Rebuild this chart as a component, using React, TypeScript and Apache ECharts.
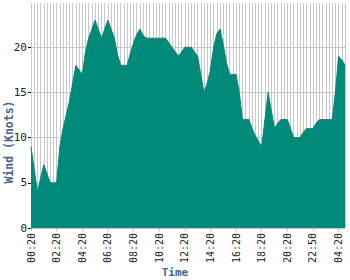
import React, { useEffect, useRef } from "react";
import * as echarts from "echarts";

const times: string[] = [
  "00:20", "00:35", "00:50", "01:05", "01:20", "01:35", "01:50", "02:05",
  "02:20", "02:35", "02:50", "03:05", "03:20", "03:35", "03:50", "04:05",
  "04:20", "04:35", "04:50", "05:05", "05:20", "05:35", "05:50", "06:05",
  "06:20", "06:35", "06:50", "07:05", "07:20", "07:35", "07:50", "08:05",
  "08:20", "08:35", "08:50", "09:05", "09:20", "09:35", "09:50", "10:05",
  "10:20", "10:35", "10:50", "11:05", "11:20", "11:35", "11:50", "12:05",
  "12:20", "12:35", "12:50", "13:05", "13:20", "13:35", "13:50", "14:05",
  "14:20", "14:35", "14:50", "15:05", "15:20", "15:35", "15:50", "16:05",
  "16:20", "16:35", "16:50", "17:05", "17:20", "17:35", "17:50", "18:05",
  "18:20", "18:35", "18:50", "19:05", "19:20", "19:35", "19:50", "20:05",
  "20:20", "20:35", "20:50", "21:05", "21:20", "21:35", "22:20", "22:35",
  "22:50", "23:05", "23:20", "23:35", "23:50", "00:05", "00:20", "00:35",
  "04:20", "04:35", "04:50",
];

const windKnots: number[] = [
  9, 6.5, 4, 5.5, 7, 6, 5, 5,
  5, 9, 11, 12.5, 14, 16, 18, 17.5,
  17, 19.5, 21, 22, 23, 22, 21, 22,
  23, 22, 21, 19.2, 18, 18, 18, 19.3,
  20.5, 21.4, 22, 21.3, 21, 21, 21, 21,
  21, 21, 21, 20.5, 20, 19.5, 19, 19.5,
  20, 20, 20, 19.5, 19, 17, 15, 16,
  17.5, 20, 21.5, 22, 20.3, 18.3, 17, 17,
  17, 15, 12, 12, 12, 11, 10.2, 9.6,
  9, 12, 15, 13, 11, 11.6, 12, 12,
  12, 11, 10, 10, 10, 10.6, 11, 11,
  11, 11.6, 12, 12, 12, 12, 12, 15,
  19, 18.6, 18,
];

const yTitle = "Wind (Knots)";
const xTitle = "Time";

export default function App() {
  const ref = useRef<HTMLDivElement>(null);
  useEffect(() => {
    document.body.style.margin = "0";
    if (!ref.current) return;
    const chart = echarts.init(ref.current, null, { renderer: "svg" });
    const grid = "#c8c8c8";
    const mono = "'DejaVu Sans Mono', monospace";
    chart.setOption({
      animation: false,
      backgroundColor: "#ffffff",
      grid: { left: 31, right: 5, top: 3, bottom: 52 },
      xAxis: {
        type: "category",
        boundaryGap: false,
        data: times,
        axisLine: { show: false },
        axisTick: { show: true, interval: 7, length: 3, lineStyle: { color: "#bbbbbb" } },
        axisLabel: {
          interval: 7,
          rotate: 90,
          fontFamily: mono,
          fontSize: 10,
          color: "#222",
          margin: 5,
        },
        splitLine: { show: true, interval: 0, lineStyle: { color: grid, width: 1 } },
      },
      yAxis: {
        type: "value",
        min: 0,
        max: 24.9,
        interval: 5,
        axisLine: { show: false },
        axisTick: { show: true, length: 3, lineStyle: { color: "#111" } },
        axisLabel: {
          fontFamily: mono,
          fontSize: 11,
          color: "#222",
          margin: 4,
          showMaxLabel: false,
        },
        splitLine: {
          show: true,
          lineStyle: { color: [grid, grid, grid, grid, grid, "rgba(0,0,0,0)"], width: 1 },
        },
      },
      graphic: [
        {
          type: "text",
          x: 9,
          y: 142,
          rotation: Math.PI / 2,
          style: {
            text: yTitle,
            fill: "#46648c",
            font: `bold 11.5px ${mono}`,
            align: "center",
            verticalAlign: "middle",
          },
        },
        {
          type: "text",
          x: 175,
          y: 272,
          style: {
            text: xTitle,
            fill: "#46648c",
            font: `bold 11px ${mono}`,
            align: "center",
            verticalAlign: "middle",
          },
        },
      ],
      series: [
        {
          type: "line",
          data: windKnots,
          symbol: "none",
          lineStyle: { color: "#008a7a", width: 1 },
          itemStyle: { color: "#008a7a" },
          areaStyle: { color: "#008a7a", opacity: 1 },
        },
      ],
    });
    return () => chart.dispose();
  }, []);
  return <div ref={ref} style={{ width: 350, height: 280 }} />;
}
